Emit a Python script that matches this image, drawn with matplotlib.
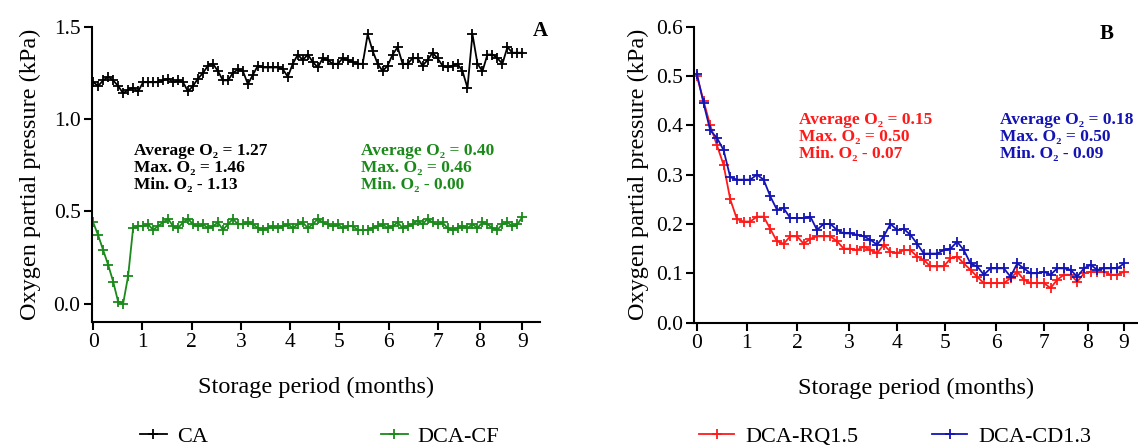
import numpy as np
import matplotlib
matplotlib.use('Agg')
import matplotlib.pyplot as plt

plt.rcParams['font.family'] = ['Liberation Serif', 'DejaVu Serif']

# panel A: CA and DCA-CF, 87 readings over 9 months
ca = [1.20, 1.18, 1.21, 1.23, 1.21, 1.18, 1.14, 1.16, 1.17, 1.15,
      1.20, 1.20, 1.20, 1.20, 1.21, 1.22, 1.20, 1.21, 1.20, 1.15,
      1.18, 1.22, 1.25, 1.29, 1.30, 1.26, 1.21, 1.21, 1.25, 1.27,
      1.26, 1.19, 1.24, 1.29, 1.28, 1.28, 1.28, 1.28, 1.27, 1.23,
      1.30, 1.35, 1.32, 1.35, 1.31, 1.28, 1.33, 1.32, 1.30, 1.30,
      1.33, 1.32, 1.31, 1.30, 1.30, 1.46, 1.37, 1.30, 1.26, 1.29,
      1.35, 1.39, 1.30, 1.30, 1.33, 1.33, 1.29, 1.32, 1.36, 1.33,
      1.29, 1.28, 1.29, 1.30, 1.26, 1.17, 1.46, 1.30, 1.26, 1.35,
      1.35, 1.33, 1.30, 1.39, 1.36, 1.36, 1.36]
dca_cf = [0.44, 0.37, 0.29, 0.21, 0.12, 0.01, 0.00, 0.15, 0.41, 0.42,
          0.42, 0.43, 0.40, 0.42, 0.44, 0.46, 0.42, 0.41, 0.44, 0.46,
          0.43, 0.42, 0.43, 0.41, 0.42, 0.44, 0.40, 0.43, 0.46, 0.43,
          0.43, 0.44, 0.43, 0.41, 0.40, 0.41, 0.42, 0.41, 0.42, 0.43,
          0.41, 0.43, 0.44, 0.41, 0.43, 0.46, 0.44, 0.43, 0.42, 0.43,
          0.41, 0.42, 0.42, 0.40, 0.40, 0.40, 0.41, 0.42, 0.43, 0.41,
          0.42, 0.44, 0.41, 0.42, 0.43, 0.45, 0.43, 0.46, 0.44, 0.43,
          0.44, 0.41, 0.40, 0.41, 0.42, 0.41, 0.43, 0.41, 0.44, 0.43,
          0.41, 0.40, 0.43, 0.44, 0.42, 0.43, 0.47]

# panel B: DCA-RQ1.5 and DCA-CD1.3, 65 readings
rq = [0.50, 0.45, 0.40, 0.36, 0.32, 0.25, 0.21, 0.205, 0.205, 0.215,
      0.215, 0.19, 0.165, 0.16, 0.175, 0.175, 0.16, 0.17, 0.175, 0.175,
      0.175, 0.165, 0.15, 0.15, 0.147, 0.154, 0.147, 0.141, 0.158, 0.144,
      0.141, 0.147, 0.147, 0.134, 0.127, 0.114, 0.114, 0.114, 0.13, 0.134,
      0.12, 0.107, 0.093, 0.08, 0.08, 0.08, 0.08, 0.09, 0.103, 0.087,
      0.08, 0.08, 0.08, 0.07, 0.087, 0.097, 0.097, 0.083, 0.10, 0.103,
      0.103, 0.103, 0.097, 0.097, 0.103]
cd = [0.505, 0.445, 0.39, 0.375, 0.35, 0.295, 0.29, 0.29, 0.29, 0.30,
      0.29, 0.256, 0.229, 0.232, 0.212, 0.212, 0.212, 0.215, 0.188, 0.20,
      0.20, 0.188, 0.181, 0.181, 0.178, 0.175, 0.168, 0.158, 0.175, 0.20,
      0.188, 0.19, 0.178, 0.16, 0.14, 0.14, 0.14, 0.147, 0.15, 0.164,
      0.147, 0.12, 0.114, 0.097, 0.11, 0.11, 0.11, 0.093, 0.12, 0.11,
      0.10, 0.10, 0.103, 0.097, 0.11, 0.11, 0.107, 0.093, 0.11, 0.117,
      0.107, 0.11, 0.11, 0.11, 0.12]

month_labels = ['0', '1', '2', '3', '4', '5', '6', '7', '8', '9']
# the month ticks are not evenly spaced in the original
ticks_a = [0, 1, 2, 3, 4, 5, 6, 7, 7.86, 8.72]
ticks_b = [0, 1, 2, 3.04, 4, 4.96, 5.98, 6.94, 7.82, 8.54]

stats_ca = ['Average O\u2082 = 1.27', 'Max. O\u2082 = 1.46', 'Min. O\u2082 - 1.13']
stats_cf = ['Average O\u2082 = 0.40', 'Max. O\u2082 = 0.46', 'Min. O\u2082 - 0.00']
stats_rq = ['Average O\u2082 = 0.15', 'Max. O\u2082 = 0.50', 'Min. O\u2082 - 0.07']
stats_cd = ['Average O\u2082 = 0.18', 'Max. O\u2082 = 0.50', 'Min. O\u2082 - 0.09']

green = '#1a8a1a'
blue = '#1414b4'
red = '#ff1a1a'

fig = plt.figure(figsize=(11.38, 4.48), dpi=100)
axA = fig.add_axes([0.0806, 0.281, 0.394, 0.659])
axB = fig.add_axes([0.610, 0.280, 0.390, 0.660])

xa = np.linspace(0, ticks_a[-1], len(ca))
xb = np.linspace(0, ticks_b[-1], len(rq))

kw = dict(lw=1.3, marker='+', ms=7, mew=1.3)
axA.plot(xa, ca, color='black', label='CA', **kw)
axA.plot(xa, dca_cf, color=green, label='DCA-CF', **kw)
axB.plot(xb, rq, color=red, label='DCA-RQ1.5', **kw)
axB.plot(xb, cd, color=blue, label='DCA-CD1.3', **kw)

for ax, ticks in ((axA, ticks_a), (axB, ticks_b)):
    ax.spines['top'].set_visible(False)
    ax.spines['right'].set_visible(False)
    ax.spines['left'].set_linewidth(1.5)
    ax.spines['bottom'].set_linewidth(1.5)
    ax.set_xticks(ticks)
    ax.set_xticklabels(month_labels)
    ax.tick_params(labelsize=15.5, width=1.5, length=6, pad=2)
    ax.set_xlabel('Storage period (months)', fontsize=17.5, labelpad=18)
    ax.set_ylabel('Oxygen partial pressure (kPa)', fontsize=17.5, labelpad=9)

axA.set_xlim(-0.03, 9.08)
axA.set_ylim(-0.1, 1.5)
axA.set_yticks([0.0, 0.5, 1.0, 1.5])
axA.set_yticklabels(['0.0', '0.5', '1.0', '1.5'])

axB.set_xlim(-0.054, 8.82)
axB.set_ylim(0, 0.6)
axB.set_yticks([0.0, 0.1, 0.2, 0.3, 0.4, 0.5, 0.6])
axB.set_yticklabels(['0.0', '0.1', '0.2', '0.3', '0.4', '0.5', '0.6'])
axB.yaxis.labelpad = 5

def stats_block(ax, x, y, lines, color):
    ax.text(x, y, '\n'.join(lines), transform=ax.transAxes, color=color,
            fontsize=12.5, fontweight='bold', va='top', ha='left', linespacing=1.08)

stats_block(axA, 0.095, 0.605, stats_ca, 'black')
stats_block(axA, 0.60, 0.605, stats_cf, green)
stats_block(axB, 0.237, 0.712, stats_rq, red)
stats_block(axB, 0.69, 0.712, stats_cd, blue)

axA.text(1.0, 0.985, 'A', transform=axA.transAxes, fontsize=15,
         fontweight='bold', ha='center', va='center')
axB.text(0.93, 0.975, 'B', transform=axB.transAxes, fontsize=15,
         fontweight='bold', ha='center', va='center')

axA.legend(loc='center left', bbox_to_anchor=(0.123, 0.025),
           bbox_transform=fig.transFigure, ncol=2, frameon=False,
           fontsize=16, handlelength=1.2, columnspacing=7.8,
           borderpad=0, borderaxespad=0, handletextpad=0.45)
axB.legend(loc='center left', bbox_to_anchor=(0.614, 0.025),
           bbox_transform=fig.transFigure, ncol=2, frameon=False,
           fontsize=16, handlelength=1.6, columnspacing=3.3,
           borderpad=0, borderaxespad=0, handletextpad=0.5)

fig.savefig('out.png', dpi=100)
